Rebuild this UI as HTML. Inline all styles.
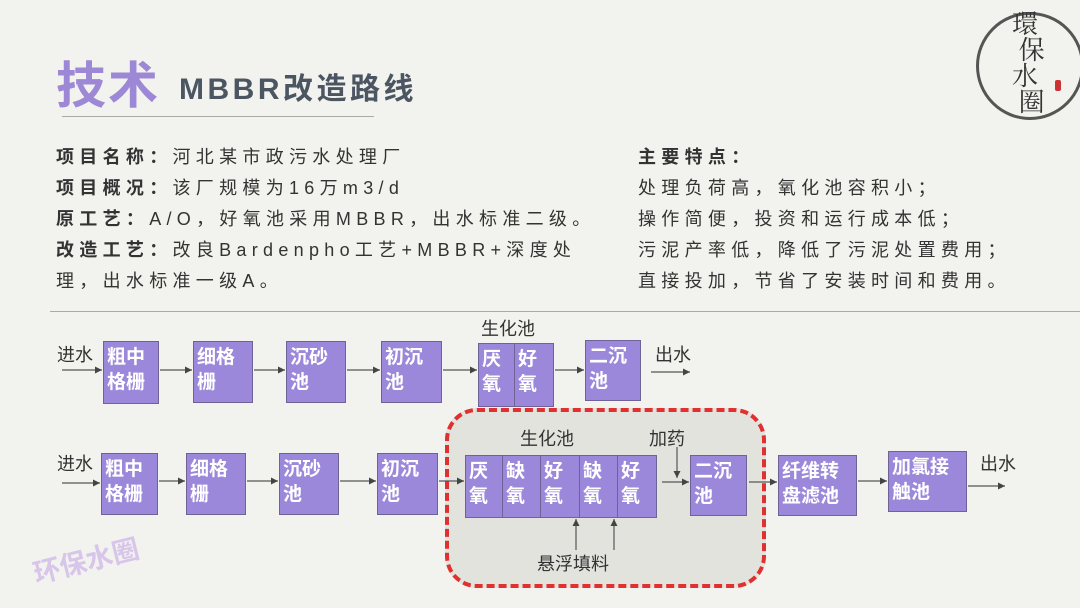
<!DOCTYPE html>
<html><head><meta charset="utf-8"><style>
*{margin:0;padding:0;box-sizing:border-box}
body{width:1080px;height:608px;background:#f2f2ee;position:relative;overflow:hidden;font-family:"Liberation Sans","Noto Sans CJK SC",sans-serif;color:#333}
.a{position:absolute;white-space:nowrap}
.b{position:absolute;background:#9c88da;border:1px solid #6f6296;color:#fff;font-weight:bold;font-size:19px;line-height:25px;padding:3px 0 0 3px;letter-spacing:0px}
.t{font-size:18px;letter-spacing:5.3px;line-height:31px}
.l{font-size:18px;color:#333}
</style></head><body>
<div class="a" style="left:56px;top:46px;font-size:50px;font-weight:bold;color:#9d88d6;letter-spacing:2px">技术</div>
<div class="a" style="left:179px;top:64px;font-size:30px;font-weight:bold;color:#4b5662;letter-spacing:3.5px">MBBR改造路线</div>
<div class="a" style="left:62px;top:116px;width:312px;height:1px;background:#aaa"></div>
<div class="a t" style="left:56px;top:142px"><b>项目名称：</b>河北某市政污水处理厂<br><b>项目概况：</b>该厂规模为16万m3/d<br><b>原工艺：</b>A/O，好氧池采用MBBR，出水标准二级。<br><b>改造工艺：</b>改良Bardenpho工艺+MBBR+深度处<br>理，出水标准一级A。</div>
<div class="a t" style="left:638px;top:142px"><b>主要特点：</b><br>处理负荷高，氧化池容积小；<br>操作简便，投资和运行成本低；<br>污泥产率低，降低了污泥处置费用；<br>直接投加，节省了安装时间和费用。</div>
<div class="a" style="left:50px;top:311px;width:1030px;height:1px;background:#aaa"></div>
<div class="a" style="left:976px;top:12px;width:108px;height:108px;border:3px solid #555;border-radius:50%"></div>
<div class="a" style="left:1012px;top:10px;font-size:26px;color:#333;line-height:26px;font-family:'Noto Serif CJK SC',serif">環<br>&nbsp;保<br>水<br>&nbsp;圈</div>
<div class="a" style="left:1055px;top:80px;width:6px;height:11px;background:#c33;border-radius:2px"></div>
<div class="a" style="left:445px;top:408px;width:321px;height:180px;background:#e3e3de;border:4px dashed #e03030;border-radius:32px"></div>
<div class="a" style="left:38px;top:552px;font-size:27px;font-weight:bold;color:#d8c5ea;transform:rotate(-14deg);transform-origin:left bottom">环保水圈</div>
<svg class="a" style="left:0;top:0" width="1080" height="608">
<defs><marker id="m" markerWidth="7" markerHeight="7" refX="6" refY="3" orient="auto"><path d="M0,0 L6,3 L0,6z" fill="#444"/></marker></defs>
<g stroke="#555" stroke-width="1.2" marker-end="url(#m)">
<line x1="62" y1="370" x2="102" y2="370"/><line x1="160" y1="370" x2="192" y2="370"/><line x1="254" y1="370" x2="285" y2="370"/><line x1="347" y1="370" x2="380" y2="370"/><line x1="443" y1="370" x2="477" y2="370"/><line x1="555" y1="370" x2="584" y2="370"/><line x1="651" y1="372" x2="690" y2="372"/>
<line x1="62" y1="483" x2="100" y2="483"/><line x1="159" y1="481" x2="185" y2="481"/><line x1="247" y1="481" x2="278" y2="481"/><line x1="340" y1="481" x2="376" y2="481"/><line x1="439" y1="481" x2="464" y2="481"/><line x1="662" y1="482" x2="689" y2="482"/><line x1="749" y1="482" x2="777" y2="482"/><line x1="858" y1="481" x2="887" y2="481"/><line x1="968" y1="486" x2="1005" y2="486"/>
<line x1="677" y1="447" x2="677" y2="478"/><line x1="576" y1="550" x2="576" y2="519"/><line x1="614" y1="550" x2="614" y2="519"/>
</g></svg>
<div class="a l" style="left:57px;top:341px">进水</div>
<div class="a l" style="left:655px;top:341px">出水</div>
<div class="a l" style="left:481px;top:315px">生化池</div>
<div class="b" style="left:103px;top:341px;width:56px;height:63px">粗中<br>格栅</div>
<div class="b" style="left:193px;top:341px;width:60px;height:62px">细格<br>栅</div>
<div class="b" style="left:286px;top:341px;width:60px;height:62px">沉砂<br>池</div>
<div class="b" style="left:381px;top:341px;width:61px;height:62px">初沉<br>池</div>
<div class="b" style="left:478px;top:343px;width:37px;height:64px">厌<br>氧</div>
<div class="b" style="left:514px;top:343px;width:40px;height:64px">好<br>氧</div>
<div class="b" style="left:585px;top:340px;width:56px;height:61px">二沉<br>池</div>
<div class="a l" style="left:57px;top:450px">进水</div>
<div class="a l" style="left:980px;top:450px">出水</div>
<div class="a l" style="left:520px;top:425px">生化池</div>
<div class="a l" style="left:649px;top:425px">加药</div>
<div class="a l" style="left:537px;top:550px">悬浮填料</div>
<div class="b" style="left:101px;top:453px;width:57px;height:62px">粗中<br>格栅</div>
<div class="b" style="left:186px;top:453px;width:60px;height:62px">细格<br>栅</div>
<div class="b" style="left:279px;top:453px;width:60px;height:62px">沉砂<br>池</div>
<div class="b" style="left:377px;top:453px;width:61px;height:62px">初沉<br>池</div>
<div class="b" style="left:465px;top:455px;width:38px;height:63px">厌<br>氧</div>
<div class="b" style="left:502px;top:455px;width:39px;height:63px">缺<br>氧</div>
<div class="b" style="left:540px;top:455px;width:40px;height:63px">好<br>氧</div>
<div class="b" style="left:579px;top:455px;width:39px;height:63px">缺<br>氧</div>
<div class="b" style="left:617px;top:455px;width:40px;height:63px">好<br>氧</div>
<div class="b" style="left:690px;top:455px;width:57px;height:61px">二沉<br>池</div>
<div class="b" style="left:778px;top:455px;width:79px;height:61px">纤维转<br>盘滤池</div>
<div class="b" style="left:888px;top:451px;width:79px;height:61px">加氯接<br>触池</div>
</body></html>
